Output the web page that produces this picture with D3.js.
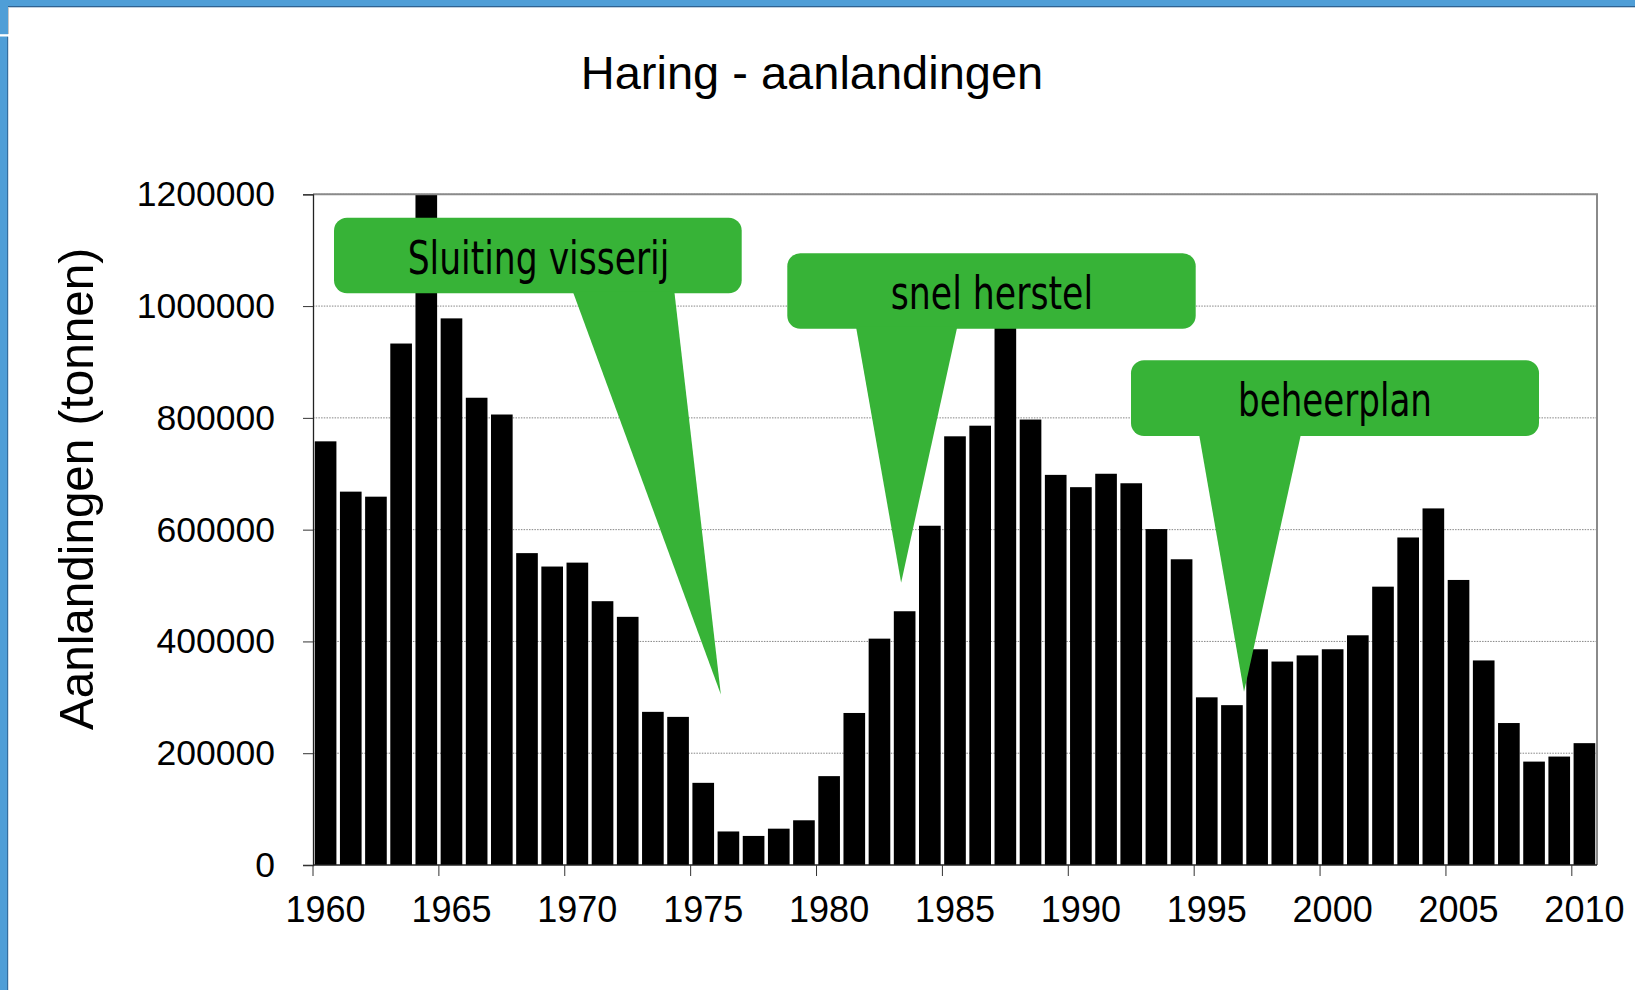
<!DOCTYPE html>
<html>
<head>
<meta charset="utf-8">
<script src="https://cdn.jsdelivr.net/npm/d3@7"></script>
<style>
  html, body { margin: 0; padding: 0; background: #fff; }
  svg { display: block; }
</style>
</head>
<body>
<svg id="chart" width="1635" height="990"></svg>
<script>
// ---- data ----
const years = d3.range(1960, 2011);
const landings = [
  758000, 668000, 659000, 933000, 1220000, 978000, 836000, 806000, 558000, 534000,
  541000, 472000, 444000, 274000, 265000, 147000, 60000, 52000, 65000, 80000,
  159000, 272000, 405000, 454000, 607000, 767000, 786000, 1000000, 797000, 698000,
  676000, 700000, 683000, 601000, 547000, 300000, 286000, 386000, 364000, 375000,
  386000, 411000, 498000, 586000, 638000, 510000, 366000, 254000, 185000, 194000, 218000
];
const yTicks = [0, 200000, 400000, 600000, 800000, 1000000, 1200000];
const xTickYears = [1960, 1965, 1970, 1975, 1980, 1985, 1990, 1995, 2000, 2005, 2010];
const titleText = "Haring - aanlandingen";
const yTitleText = "Aanlandingen (tonnen)";
const calloutTexts = ["Sluiting visserij", "snel herstel", "beheerplan"];
const calloutTipYears = [1976.2, 1983.36, 1996.98];
const calloutTipValues = [305000, 505000, 310000];

// ---- layout ----
const W = 1635, H = 990;
const L = 313, R = 1597, T = 194.3, B = 865;
const green = "#37b337";
const svg = d3.select("#chart");

// blue frame
const blue = "#4f9ed7", blueDark = "#2f6291";
svg.append("rect").attr("x", 0).attr("y", 0).attr("width", W).attr("height", 6).attr("fill", blue);
svg.append("rect").attr("x", 0).attr("y", 6).attr("width", W).attr("height", 1.3).attr("fill", blueDark);
svg.append("rect").attr("x", 0).attr("y", 0).attr("width", 8).attr("height", H).attr("fill", blue);
svg.append("rect").attr("x", 7.2).attr("y", 36.5).attr("width", 1).attr("height", H).attr("fill", blueDark);
svg.append("rect").attr("x", 8).attr("y", 7).attr("width", 1).attr("height", 27).attr("fill", "#c8c8c8");
svg.append("rect").attr("x", 0).attr("y", 34.2).attr("width", 9).attr("height", 2.3).attr("fill", "#ffffff");

// scales
const x = d3.scaleBand().domain(years).range([L, R]).paddingInner(0.14).paddingOuter(0.07);
const xLin = d3.scaleLinear().domain([1960, 2011]).range([L, R]);
const y = d3.scaleLinear().domain([0, 1200000]).range([B, T]).clamp(true);
const step = x.step();

// gridlines
svg.append("g").selectAll("line").data(yTicks.filter(d => d > 0)).join("line")
  .attr("x1", L).attr("x2", R)
  .attr("y1", d => y(d)).attr("y2", d => y(d))
  .attr("stroke", "#858585").attr("stroke-width", 1).attr("stroke-dasharray", "1.5,1.2");

// bars
svg.append("g").selectAll("rect").data(years).join("rect")
  .attr("x", d => x(d))
  .attr("width", x.bandwidth())
  .attr("y", (d, i) => y(landings[i]))
  .attr("height", (d, i) => B - y(landings[i]))
  .attr("fill", "#000");

// plot border (top + right)
svg.append("path")
  .attr("d", `M${L},${T}H${R}V${B}`)
  .attr("fill", "none").attr("stroke", "#8a8a8a").attr("stroke-width", 2);

// y axis
const yAxis = svg.append("g").attr("transform", `translate(${L},0)`)
  .call(d3.axisLeft(y).tickValues(yTicks).tickFormat(d3.format("d")).tickSize(10).tickPadding(28));
yAxis.select(".domain").attr("stroke", "#222").attr("stroke-width", 1.3);
yAxis.selectAll(".tick line").attr("stroke", "#333").attr("stroke-width", 1);
yAxis.selectAll("text")
  .attr("font-family", "'Liberation Sans', Arial, sans-serif")
  .attr("font-size", 35.5).attr("fill", "#000");

// x axis
const xAxis = svg.append("g").attr("transform", `translate(0,${B})`)
  .call(d3.axisBottom(x).tickValues(xTickYears).tickSizeOuter(0).tickSize(0).tickPadding(31));
xAxis.select(".domain").remove();
xAxis.selectAll("text")
  .attr("font-family", "'Liberation Sans', Arial, sans-serif")
  .attr("font-size", 36).attr("fill", "#000");
svg.append("line").attr("x1", L).attr("x2", R).attr("y1", B).attr("y2", B)
  .attr("stroke", "#222").attr("stroke-width", 1.3);
svg.append("g").selectAll("line").data(xTickYears).join("line")
  .attr("x1", d => x(d) - step * 0.07).attr("x2", d => x(d) - step * 0.07)
  .attr("y1", B).attr("y2", B + 11)
  .attr("stroke", "#333").attr("stroke-width", 1);

// title
svg.append("text").attr("x", 812).attr("y", 89.3).attr("text-anchor", "middle")
  .attr("font-family", "'Liberation Sans', Arial, sans-serif").attr("font-size", 47)
  .attr("fill", "#000").text(titleText);

// y title
svg.append("text").attr("transform", "translate(93,489) rotate(-90)")
  .attr("text-anchor", "middle")
  .attr("font-family", "'Liberation Sans', Arial, sans-serif").attr("font-size", 49)
  .attr("textLength", 482).attr("lengthAdjust", "spacingAndGlyphs")
  .attr("fill", "#000").text(yTitleText);

// callouts
const boxes = [
  { x0: 334, x1: 741.7, y0: 217.7, y1: 293.3, b0: 572.7, b1: 674.3, tx: 538.5, ty: 274.3, tw: 261.6 },
  { x0: 787.3, x1: 1195.7, y0: 253.3, y1: 328.7, b0: 856, b1: 957.3, tx: 991.9, ty: 309, tw: 202.3 },
  { x0: 1131, x1: 1539, y0: 360.3, y1: 436, b0: 1199, b1: 1301, tx: 1335, ty: 415.7, tw: 194 }
];
const cg = svg.append("g");
boxes.forEach((b, i) => {
  const tipX = xLin(calloutTipYears[i]);
  const tipY = y(calloutTipValues[i]);
  cg.append("rect").attr("x", b.x0).attr("y", b.y0)
    .attr("width", b.x1 - b.x0).attr("height", b.y1 - b.y0)
    .attr("rx", 13).attr("ry", 13).attr("fill", green);
  cg.append("path")
    .attr("d", `M${b.b0},${b.y1 - 2}L${b.b1},${b.y1 - 2}L${tipX},${tipY}Z`)
    .attr("fill", green);
  cg.append("text").attr("x", b.tx).attr("y", b.ty).attr("text-anchor", "middle")
    .attr("font-family", "'Liberation Sans Narrow', 'DejaVu Sans Condensed', 'Roboto Condensed', sans-serif")
    .attr("font-size", 47)
    .attr("textLength", b.tw).attr("lengthAdjust", "spacingAndGlyphs")
    .attr("fill", "#000").text(calloutTexts[i]);
});
</script>
</body>
</html>
